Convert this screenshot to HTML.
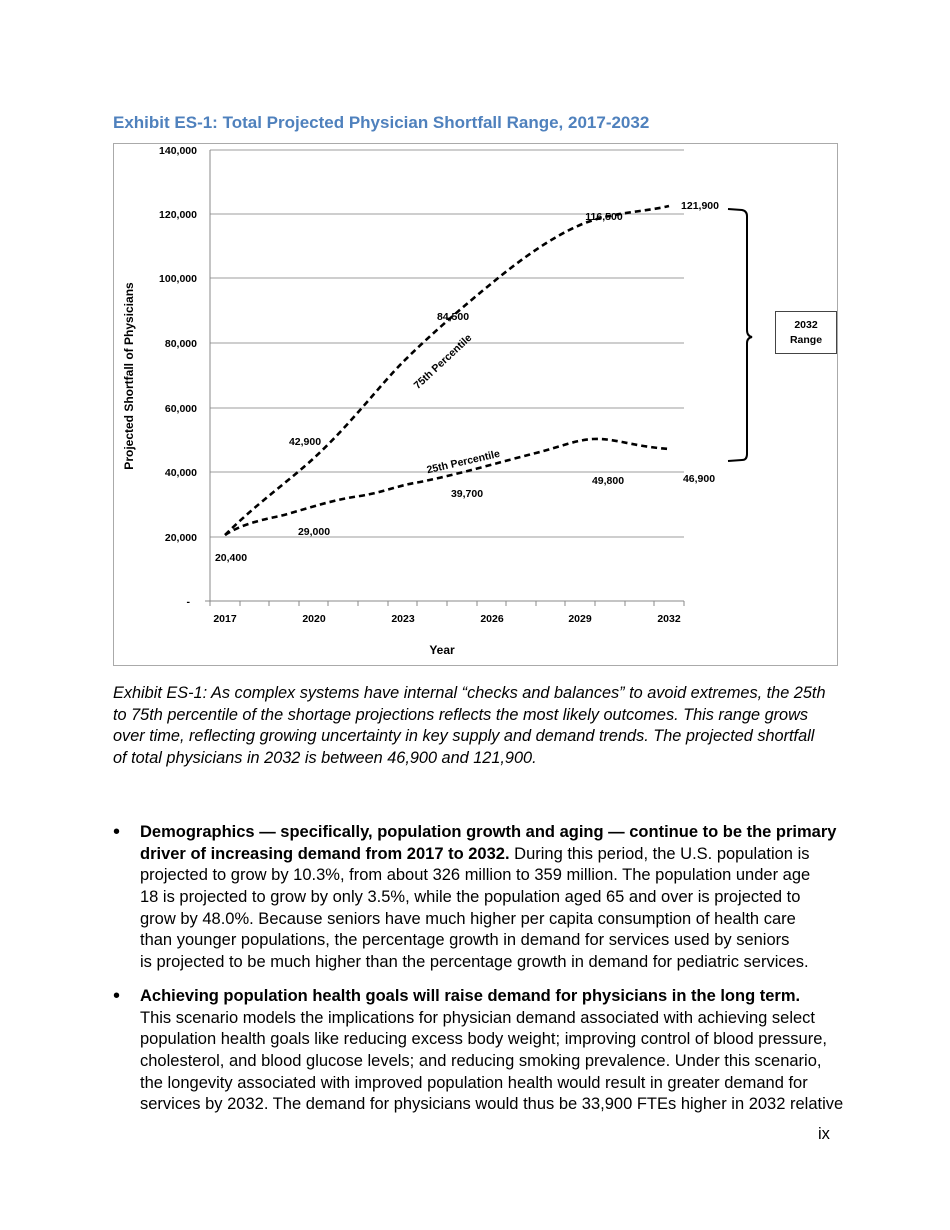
<!DOCTYPE html>
<html><head><meta charset="utf-8"><style>
body{margin:0;width:950px;height:1230px;background:#fff;position:relative;font-family:"Liberation Sans",sans-serif;color:#000;overflow:hidden}
.t{position:absolute;font-size:16.5px;white-space:nowrap;line-height:19px}
.i{font-style:italic;font-size:16.3px}
.b{font-weight:bold}
.bul{position:absolute;left:113px;font-size:20px;line-height:19px}
svg text{font-family:"Liberation Sans",sans-serif}
</style></head><body>
<div class="t b" style="left:113px;top:113px;color:#4f81bd;font-size:17px">Exhibit ES-1: Total Projected Physician Shortfall Range, 2017-2032</div>
<svg width="950" height="700" style="position:absolute;left:0;top:0">
<rect x="113.5" y="143.5" width="724" height="522" fill="none" stroke="#aaa"/>
<g stroke="#b0b0b0" stroke-width="1.3">
<line x1="210" x2="684" y1="150" y2="150"/><line x1="210" x2="684" y1="214" y2="214"/>
<line x1="210" x2="684" y1="278" y2="278"/><line x1="210" x2="684" y1="343" y2="343"/>
<line x1="210" x2="684" y1="408" y2="408"/><line x1="210" x2="684" y1="472" y2="472"/>
<line x1="210" x2="684" y1="537" y2="537"/>
</g>
<g stroke="#888" stroke-width="1">
<line x1="210" x2="210" y1="150" y2="606"/><line x1="205" x2="684" y1="601" y2="601"/>
<line x1="210" x2="210" y1="601" y2="606"/><line x1="240" x2="240" y1="601" y2="606"/><line x1="269" x2="269" y1="601" y2="606"/><line x1="299" x2="299" y1="601" y2="606"/><line x1="328" x2="328" y1="601" y2="606"/><line x1="358" x2="358" y1="601" y2="606"/><line x1="388" x2="388" y1="601" y2="606"/><line x1="417" x2="417" y1="601" y2="606"/><line x1="447" x2="447" y1="601" y2="606"/><line x1="477" x2="477" y1="601" y2="606"/><line x1="506" x2="506" y1="601" y2="606"/><line x1="536" x2="536" y1="601" y2="606"/><line x1="565" x2="565" y1="601" y2="606"/><line x1="595" x2="595" y1="601" y2="606"/><line x1="625" x2="625" y1="601" y2="606"/><line x1="654" x2="654" y1="601" y2="606"/><line x1="684" x2="684" y1="601" y2="606"/>
</g>
<g font-size="10.5" font-weight="bold" text-anchor="end">
<text x="197" y="154">140,000</text><text x="197" y="218">120,000</text><text x="197" y="282">100,000</text><text x="197" y="347">80,000</text><text x="197" y="412">60,000</text><text x="197" y="476">40,000</text><text x="197" y="541">20,000</text><text x="190" y="605">-</text>
</g>
<g font-size="10.5" font-weight="bold" text-anchor="middle">
<text x="225" y="622">2017</text><text x="314" y="622">2020</text><text x="403" y="622">2023</text><text x="492" y="622">2026</text><text x="580" y="622">2029</text><text x="669" y="622">2032</text>
<text x="442" y="654" font-size="12">Year</text>
</g>
<text transform="translate(133,376) rotate(-90)" font-size="12" font-weight="bold" text-anchor="middle">Projected Shortfall of Physicians</text>
<g fill="none" stroke="#000" stroke-width="2.6" stroke-dasharray="6,4">
<path d="M225,535 C255,505 290,480 314,458 C350,425 380,385 403,362 C430,335 465,305 492,283 C520,260 550,238 580,225 C610,212 645,212 669,206"/>
<path d="M225,535 C240,525 260,520 280,516 C300,511 330,500 360,496 C385,492 395,486 420,482 C460,474 500,462 536,453 C560,447 575,440 593,439 C615,438 630,446 669,449"/>
</g>
<g font-size="10.5" font-weight="bold" text-anchor="middle">
<text x="231" y="561">20,400</text><text x="314" y="535">29,000</text><text x="305" y="445">42,900</text>
<text x="467" y="497">39,700</text><text x="453" y="320">84,500</text><text x="604" y="220">116,500</text>
<text x="608" y="484">49,800</text><text x="699" y="482">46,900</text><text x="700" y="209">121,900</text>
<text transform="translate(445,364) rotate(-43)">75th Percentile</text>
<text transform="translate(464,465) rotate(-13)">25th Percentile</text>
</g>
<path d="M728,209 L742,210 Q747,211 747,216 L747,330 Q747,336 752,337 Q747,338 747,343 L747,454 Q747,460 742,460 L728,461" fill="none" stroke="#000" stroke-width="2"/>
<rect x="775.5" y="311.5" width="61" height="42" fill="#fff" stroke="#444"/>
<text x="806" y="328" font-size="10.5" font-weight="bold" text-anchor="middle">2032</text>
<text x="806" y="343" font-size="10.5" font-weight="bold" text-anchor="middle">Range</text>
</svg>
<div class="t i" style="left:113px;top:684px">Exhibit ES-1: As complex systems have internal “checks and balances” to avoid extremes, the 25th</div>
<div class="t i" style="left:113px;top:706px">to 75th percentile of the shortage projections reflects the most likely outcomes. This range grows</div>
<div class="t i" style="left:113px;top:727px">over time, reflecting growing uncertainty in key supply and demand trends. The projected shortfall</div>
<div class="t i" style="left:113px;top:749px">of total physicians in 2032 is between 46,900 and 121,900.</div>

<div class="bul" style="top:823px">•</div>
<div class="t b" style="left:140px;top:823px">Demographics — specifically, population growth and aging — continue to be the primary</div>
<div class="t" style="left:140px;top:845px"><b>driver of increasing demand from 2017 to 2032.</b> During this period, the U.S. population is</div>
<div class="t" style="left:140px;top:866px">projected to grow by 10.3%, from about 326 million to 359 million. The population under age</div>
<div class="t" style="left:140px;top:888px">18 is projected to grow by only 3.5%, while the population aged 65 and over is projected to</div>
<div class="t" style="left:140px;top:910px">grow by 48.0%. Because seniors have much higher per capita consumption of health care</div>
<div class="t" style="left:140px;top:931px">than younger populations, the percentage growth in demand for services used by seniors</div>
<div class="t" style="left:140px;top:953px">is projected to be much higher than the percentage growth in demand for pediatric services.</div>

<div class="bul" style="top:987px">•</div>
<div class="t b" style="left:140px;top:987px">Achieving population health goals will raise demand for physicians in the long term.</div>
<div class="t" style="left:140px;top:1009px">This scenario models the implications for physician demand associated with achieving select</div>
<div class="t" style="left:140px;top:1030px">population health goals like reducing excess body weight; improving control of blood pressure,</div>
<div class="t" style="left:140px;top:1052px">cholesterol, and blood glucose levels; and reducing smoking prevalence. Under this scenario,</div>
<div class="t" style="left:140px;top:1074px">the longevity associated with improved population health would result in greater demand for</div>
<div class="t" style="left:140px;top:1095px">services by 2032. The demand for physicians would thus be 33,900 FTEs higher in 2032 relative</div>
<div class="t" style="left:818px;top:1125px">ix</div>
</body></html>
